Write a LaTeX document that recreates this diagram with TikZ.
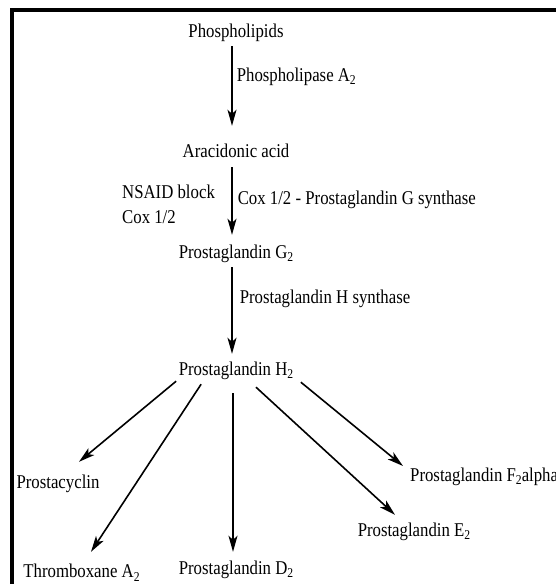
\documentclass[tikz,border=0pt]{standalone}
\usepackage{fontspec}
\setmainfont[FakeStretch=0.86]{Liberation Serif}
\usetikzlibrary{arrows.meta, positioning}

\newcommand{\subtwo}{\raisebox{-3.5pt}{\fontsize{13.5}{14}\selectfont 2}}

\tikzset{
    txt/.style={inner sep=0pt, text height=13pt, text depth=4pt, font=\fontsize{19.5}{22}\selectfont},
    arr/.style={line width=1.6pt, -{Stealth[length=16pt, width=9pt, inset=4pt]}}
}

\begin{document}
\begin{tikzpicture}[x=1pt, y=-1pt, on grid]
        \useasboundingbox (0,0) rectangle (556,584);
        \draw[line width=4pt] (12,584) |- (556,10);

        \node[txt] (phos) at (236,32.5) {Phospholipids};
        \node[txt] (arac) [below=120pt of phos] {Aracidonic acid};
        \node[txt] (pgg) [below=101pt of arac] {Prostaglandin G\subtwo};
        \node[txt] (pgh) [below=117pt of pgg] {Prostaglandin H\subtwo};
        \node[txt] (cyc) [below left=113pt and 178pt of pgh] {Prostacyclin};
        \node[txt] (thr) [below left=202.5pt and 154.5pt of pgh] {Thromboxane A\subtwo};
        \node[txt] (pgd) [below=199pt of pgh] {Prostaglandin D\subtwo};
        \node[txt] (pge) [below right=161pt and 178pt of pgh] {Prostaglandin E\subtwo};
        \node[txt, anchor=west] (pgf) at (410,476.5) {Prostaglandin F\subtwo alpha};
        \node[txt, anchor=west] (nsaid) at (122,193.5) {NSAID block};
        \node[txt, anchor=west] (cox) at (122,218.5) {Cox 1/2};

        \path[arr]
        ([xshift=-4pt]phos.south) edge [shorten <=5pt, shorten >=18pt]
            node[txt, pos=.345, right=4pt] {Phospholipase A\subtwo} ([xshift=-4pt]arac.north)
        ([xshift=-4pt]arac.south) edge [shorten <=6pt, shorten >=10pt]
            node[txt, pos=.47, right=5pt] {Cox 1/2 - Prostaglandin G synthase} ([xshift=-4pt]pgg.north)
        ([xshift=-4pt]pgg.south) edge [shorten <=5pt, shorten >=8pt]
            node[txt, pos=.365, right=7pt] {Prostaglandin H synthase} ([xshift=-4pt]pgh.north)
        ([shift={(-2.5,2)}]pgh.south west) edge ([shift={(21,-13)}]cyc.north)
        ([shift={(22.5,5)}]pgh.south west) edge ([shift={(9.5,-12.5)}]thr.north)
        ([shift={(-3,14)}]pgh.south) edge ([shift={(-3,-9)}]pgd.north)
        ([shift={(20,8)}]pgh.south) edge ([shift={(-19,-8)}]pge.north)
        ([shift={(7.5,3)}]pgh.south east) edge ([shift={(-7,-10.5)}]pgf.west);

\end{tikzpicture}
\end{document}
